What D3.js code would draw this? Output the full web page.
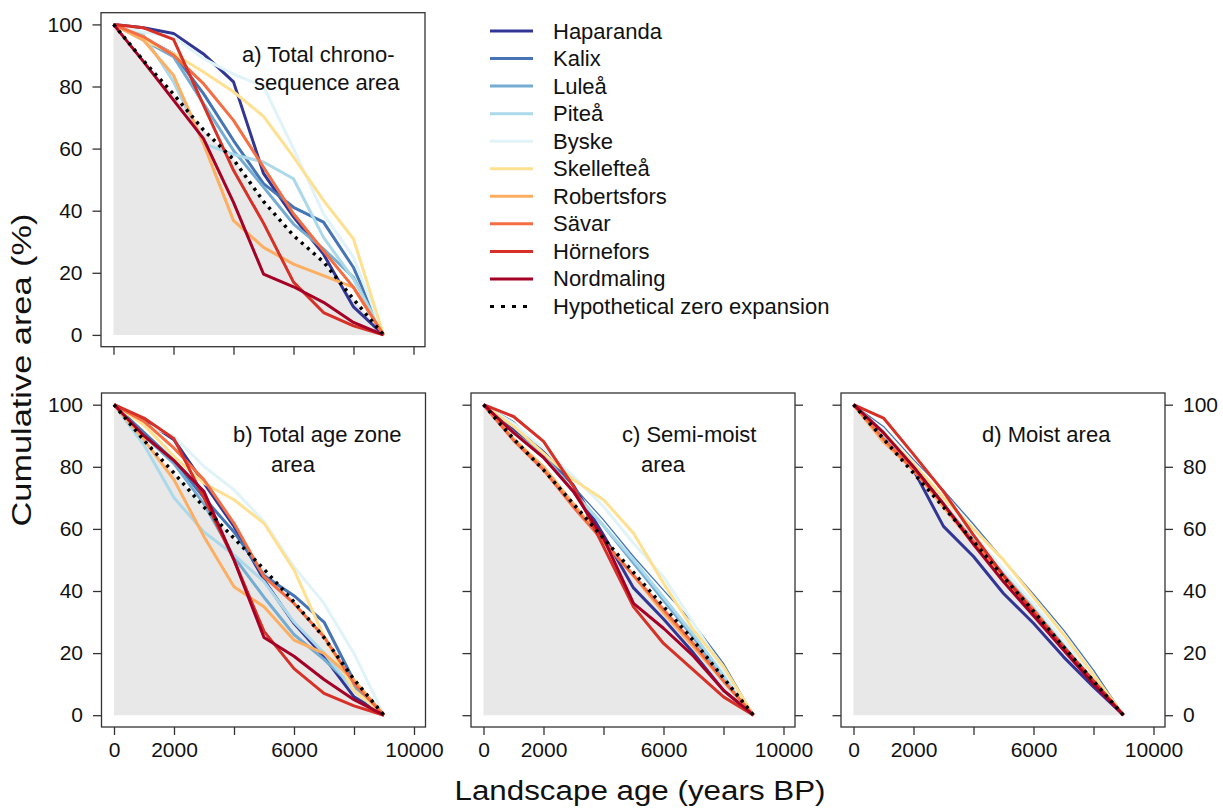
<!DOCTYPE html>
<html>
<head>
<meta charset="utf-8">
<script src="https://cdnjs.cloudflare.com/ajax/libs/d3/7.8.5/d3.min.js"></script>
<style>
body { margin: 0; background: #fff; }
svg text { font-family: "Liberation Sans", Arial, sans-serif; fill: #111; }
</style>
</head>
<body>
<svg width="1223" height="809"></svg>
<script>
// Landscape age of each zone boundary (years BP)
var years = [0, 1000, 2000, 3000, 4000, 5000, 6000, 7000, 8000, 9000];

var sites = ["Haparanda", "Kalix", "Luleå", "Piteå", "Byske",
             "Skellefteå", "Robertsfors", "Sävar", "Hörnefors", "Nordmaling"];

// RdYlBu, reversed
var siteColours = ["#313695", "#4575b4", "#74add1", "#abd9e9", "#e0f3f8",
                   "#fee090", "#fdae61", "#f46d43", "#d73027", "#a50026"];

// a) Total chronosequence area, one row per site (same order as sites)
var totalChrono = [
    [100, 98.9, 97.1, 90.5, 81.5, 52, 38, 26, 9, 0],
    [100, 95.5, 90.6, 77.7, 62.6, 48.7, 41.1, 36.3, 21.7, 0],
    [100, 94.9, 89.6, 74.5, 59.4, 47.6, 35.7, 27.7, 18.5, 0],
    [100, 96.6, 81.5, 61.6, 58.1, 55.7, 50.3, 31.4, 18, 0],
    [100, 97.5, 96, 89, 84, 80, 60, 39, 25, 0],
    [100, 95, 90.6, 84.7, 78.3, 70.4, 57.3, 43.3, 30.9, 0],
    [100, 94.9, 83.6, 61.6, 36.8, 28.2, 22.8, 19.1, 15.3, 0],
    [100, 96, 90.1, 80.9, 69.1, 54, 39, 27.1, 15.3, 0],
    [100, 98.9, 95.2, 74, 53, 36, 17, 7.2, 2.9, 0],
    [100, 88, 75.6, 63.2, 42.7, 19.6, 15.5, 10.5, 4, 0]
];
var hypoChrono = [100, 88.3, 77.5, 66, 56.5, 43, 32, 23.5, 11.5, 0];

// b) Total age zone area
var totalZone = [
    [100, 95.2, 88.7, 74.7, 60.8, 43.5, 29.6, 18.8, 5.9, 0],
    [100, 91, 82, 70, 59, 45, 38.5, 30, 11, 0],
    [100, 90, 81, 68, 51, 38, 26, 18, 9, 0],
    [100, 87, 70, 59, 51.6, 43, 30, 20, 8, 0],
    [100, 94, 89.8, 80.1, 72.6, 62.4, 47.8, 36, 19.9, 0],
    [100, 93.5, 83.3, 74.7, 69.4, 61.8, 46.8, 25.3, 8, 0],
    [100, 88.7, 75.8, 57.5, 41.4, 34.9, 24.2, 19.9, 11.3, 0],
    [100, 94.6, 86, 75.8, 61.8, 44.6, 36, 25.3, 10.2, 0],
    [100, 95.7, 89, 70, 50, 27, 15, 7, 3, 0],
    [100, 90, 82, 72, 50, 25, 19, 11.5, 5, 0]
];
var hypoZone = [100, 88.5, 78, 67, 57, 47, 36.5, 25, 11.5, 0];

// c) Semi-moist area
var semiMoist = [
    [100, 92, 85, 74, 58, 41, 31, 20, 8, 0],
    [100, 94.6, 84.4, 73.7, 62.9, 51.1, 40.3, 29.6, 16.7, 0],
    [100, 91, 84, 72, 61, 49, 37, 25, 12, 0],
    [100, 91, 83, 72, 61, 50, 38, 26, 13, 0],
    [100, 94, 86, 76.9, 67.2, 55.4, 44.6, 29.6, 14.5, 0],
    [100, 93, 84.4, 75.8, 69.4, 58.6, 42.5, 27.4, 15.6, 0],
    [100, 89, 80, 68, 56, 45, 33, 22, 11, 0],
    [100, 88.5, 79, 67, 56, 45, 34, 23, 11, 0],
    [100, 96.2, 88.2, 73.7, 54.3, 34.9, 23.1, 14.5, 5.9, 0],
    [100, 91, 83, 72, 57, 36, 28, 19, 8, 0]
];
var hypoSemi = [100, 89, 79, 68, 57, 46, 35, 24, 12, 0];

// d) Moist area
var moist = [
    [100, 90.9, 79, 60.8, 51.1, 39.2, 29.6, 18.8, 9.1, 0],
    [100, 93, 82.3, 72.5, 61.5, 50, 39, 27.5, 14.5, 0],
    [100, 90, 80, 68, 57, 46, 35, 23, 12, 0],
    [100, 90, 79, 68, 57, 46, 35, 24, 12, 0],
    [100, 91, 80, 69, 58, 47, 36, 24, 12, 0],
    [100, 91, 81, 70, 60, 50, 38, 26, 13, 0],
    [100, 88, 79, 67, 55, 44, 33, 22, 11, 0],
    [100, 89, 79, 68, 56, 45, 34, 22, 11, 0],
    [100, 95.7, 84, 72, 58, 45, 33, 22, 11, 0],
    [100, 91, 80, 68, 55, 43, 32, 21, 10, 0]
];
var hypoMoist = [100, 89, 78, 67, 56, 44.5, 33.5, 22, 11, 0];

var xTicks = [0, 2000, 4000, 6000, 8000, 10000];
var xLabels = [0, 2000, 6000, 10000];
var yTicks = [0, 20, 40, 60, 80, 100];

var svg = d3.select("svg");

var boxW = 324, boxH = 334;

function drawPanel(p) {
    var g = svg.append("g").attr("transform", "translate(" + p.left + "," + p.top + ")");

    var x = d3.scaleLinear().domain([0, 10000]).range([12.5, 312.5]);
    var y = d3.scaleLinear().domain([0, 100]).range([boxH - 11.8, 11.7]);

    // grey area under the zero-expansion line
    var area = d3.area()
        .x(function(d, i) { return x(years[i]); })
        .y0(y(0))
        .y1(function(d) { return y(d); });
    g.append("path")
        .datum(p.hypo)
        .attr("d", area)
        .attr("fill", "#e8e8e8");

    var line = d3.line()
        .x(function(d, i) { return x(years[i]); })
        .y(function(d) { return y(d); });

    g.selectAll(".site")
        .data(p.rows)
        .enter()
        .append("path")
        .attr("class", "site")
        .attr("d", line)
        .attr("fill", "none")
        .attr("stroke", function(d, i) { return siteColours[i]; })
        // Kalix is drawn thin in the moisture panels
        .attr("stroke-width", function(d, i) { return (p.thinKalix && i === 1) ? 1.3 : 3; })
        .attr("stroke-linejoin", "round");

    g.append("path")
        .datum(p.hypo)
        .attr("d", line)
        .attr("fill", "none")
        .attr("stroke", "#000")
        .attr("stroke-width", 3.5)
        .attr("stroke-dasharray", "3,5");

    // box
    g.append("rect")
        .attr("width", boxW)
        .attr("height", boxH)
        .attr("fill", "none")
        .attr("stroke", "#333")
        .attr("stroke-width", 1.3);

    var xAxis = d3.axisBottom(x)
        .tickValues(xTicks)
        .tickSize(8)
        .tickPadding(7)
        .tickFormat(function(d) { return p.xLab && xLabels.indexOf(d) >= 0 ? d : ""; });
    var xa = g.append("g").attr("transform", "translate(0," + boxH + ")").call(xAxis);

    var yAxisL = d3.axisLeft(y).tickValues(yTicks).tickSize(8.5).tickPadding(10)
        .tickFormat(function(d) { return p.yLeftLab ? d : ""; });
    var yl = g.append("g").call(yAxisL);

    var axes = [xa, yl];
    if (p.right) {
        var yAxisR = d3.axisRight(y).tickValues(yTicks).tickSize(8).tickPadding(10)
            .tickFormat(function(d) { return p.yRightLab ? d : ""; });
        axes.push(g.append("g").attr("transform", "translate(" + boxW + ",0)").call(yAxisR));
    }
    axes.forEach(function(a) {
        a.select(".domain").remove();
        a.selectAll("line").attr("stroke", "#333").attr("stroke-width", 1.3);
        a.selectAll("text")
            .attr("font-size", "21px")
            .attr("font-family", "Liberation Sans, Arial, sans-serif")
            .attr("fill", "#111");
    });

    p.title.forEach(function(t) {
        svg.append("text")
            .attr("x", t[1])
            .attr("y", t[2])
            .attr("font-size", "22px")
            .text(t[0]);
    });
}

var panels = [
    { left: 101, top: 12.7, rows: totalChrono, hypo: hypoChrono, xLab: false, yLeftLab: true, right: false,
      title: [["a) Total chrono-", 242, 62], ["sequence area", 254, 90]] },
    { left: 101.5, top: 393, rows: totalZone, hypo: hypoZone, xLab: true, yLeftLab: true, right: false,
      title: [["b) Total age zone", 233, 442], ["area", 271, 471.5]] },
    { left: 471, top: 393, rows: semiMoist, hypo: hypoSemi, xLab: true, yLeftLab: false, right: true, yRightLab: false,
      thinKalix: true, title: [["c) Semi-moist", 622, 442], ["area", 641, 471.5]] },
    { left: 841, top: 393, rows: moist, hypo: hypoMoist, xLab: true, yLeftLab: false, right: true, yRightLab: true,
      thinKalix: true, title: [["d) Moist area", 982, 442]] }
];

panels.forEach(drawPanel);

// Legend
var legend = svg.append("g").attr("class", "legend");
var legendNames = sites.concat(["Hypothetical zero expansion"]);
var legendItem = legend.selectAll(".legenditem")
    .data(legendNames)
    .enter()
    .append("g")
    .attr("class", "legenditem")
    .attr("transform", function(d, i) { return "translate(490," + (31 + i * 27.55) + ")"; });

legendItem.append("line")
    .attr("x1", 0)
    .attr("x2", 43)
    .attr("stroke", function(d, i) { return i < sites.length ? siteColours[i] : "#000"; })
    .attr("stroke-width", 3)
    .attr("stroke-dasharray", function(d, i) { return i < sites.length ? null : "4,7"; });

legendItem.append("text")
    .attr("x", 63)
    .attr("y", 7.5)
    .attr("font-size", "22px")
    .text(function(d) { return d; });

// Axis titles
svg.append("text")
    .attr("transform", "translate(31,370) rotate(-90)")
    .attr("text-anchor", "middle")
    .attr("font-size", "27px")
    .attr("textLength", 313)
    .attr("lengthAdjust", "spacingAndGlyphs")
    .text("Cumulative area (%)");

svg.append("text")
    .attr("x", 640)
    .attr("y", 800)
    .attr("text-anchor", "middle")
    .attr("font-size", "27px")
    .attr("textLength", 371)
    .attr("lengthAdjust", "spacingAndGlyphs")
    .text("Landscape age (years BP)");
</script>
</body>
</html>
